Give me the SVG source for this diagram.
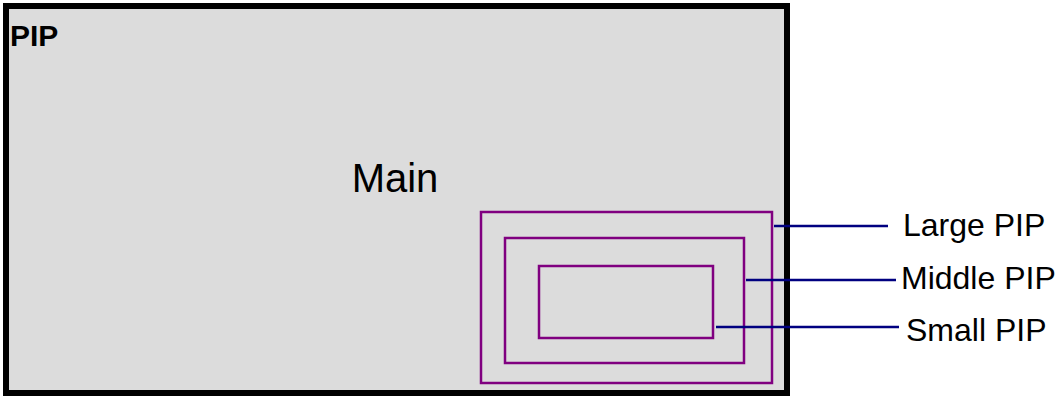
<svg xmlns="http://www.w3.org/2000/svg" width="1058" height="396" viewBox="0 0 1058 396">
<style>
.pip{fill:none;stroke:#800080;stroke-width:2.5}
.lead{stroke:#000080;stroke-width:2.5}
.lbl{font-family:"Liberation Sans",Arial,sans-serif;font-size:32px;fill:#000}
</style>
<rect width="1058" height="396" fill="#fff"/>
<g id="main">
<rect x="6" y="6" width="781" height="387" fill="#dcdcdc" stroke="#000" stroke-width="6"/>
<text x="10" y="46" font-family="Liberation Sans,Arial,sans-serif" font-size="30" font-weight="bold">PIP</text>
<text x="395" y="192" text-anchor="middle" class="lbl" style="font-size:40px">Main</text>
</g>
<g id="large-pip"><rect class="pip" x="481" y="212" width="291" height="171"/></g>
<g id="middle-pip"><rect class="pip" x="505" y="238" width="239" height="125"/></g>
<g id="small-pip"><rect class="pip" x="539" y="266" width="174" height="72"/></g>
<g id="connectors">
<line class="lead" x1="774" y1="226" x2="888" y2="226"/>
<line class="lead" x1="746" y1="280" x2="896" y2="280"/>
<line class="lead" x1="716" y1="327" x2="899" y2="327"/>
</g>
<g id="label-large"><text class="lbl" x="903" y="236">Large PIP</text></g>
<g id="label-middle"><text class="lbl" x="901" y="289">Middle PIP</text></g>
<g id="label-small"><text class="lbl" x="906" y="341">Small PIP</text></g>
</svg>
